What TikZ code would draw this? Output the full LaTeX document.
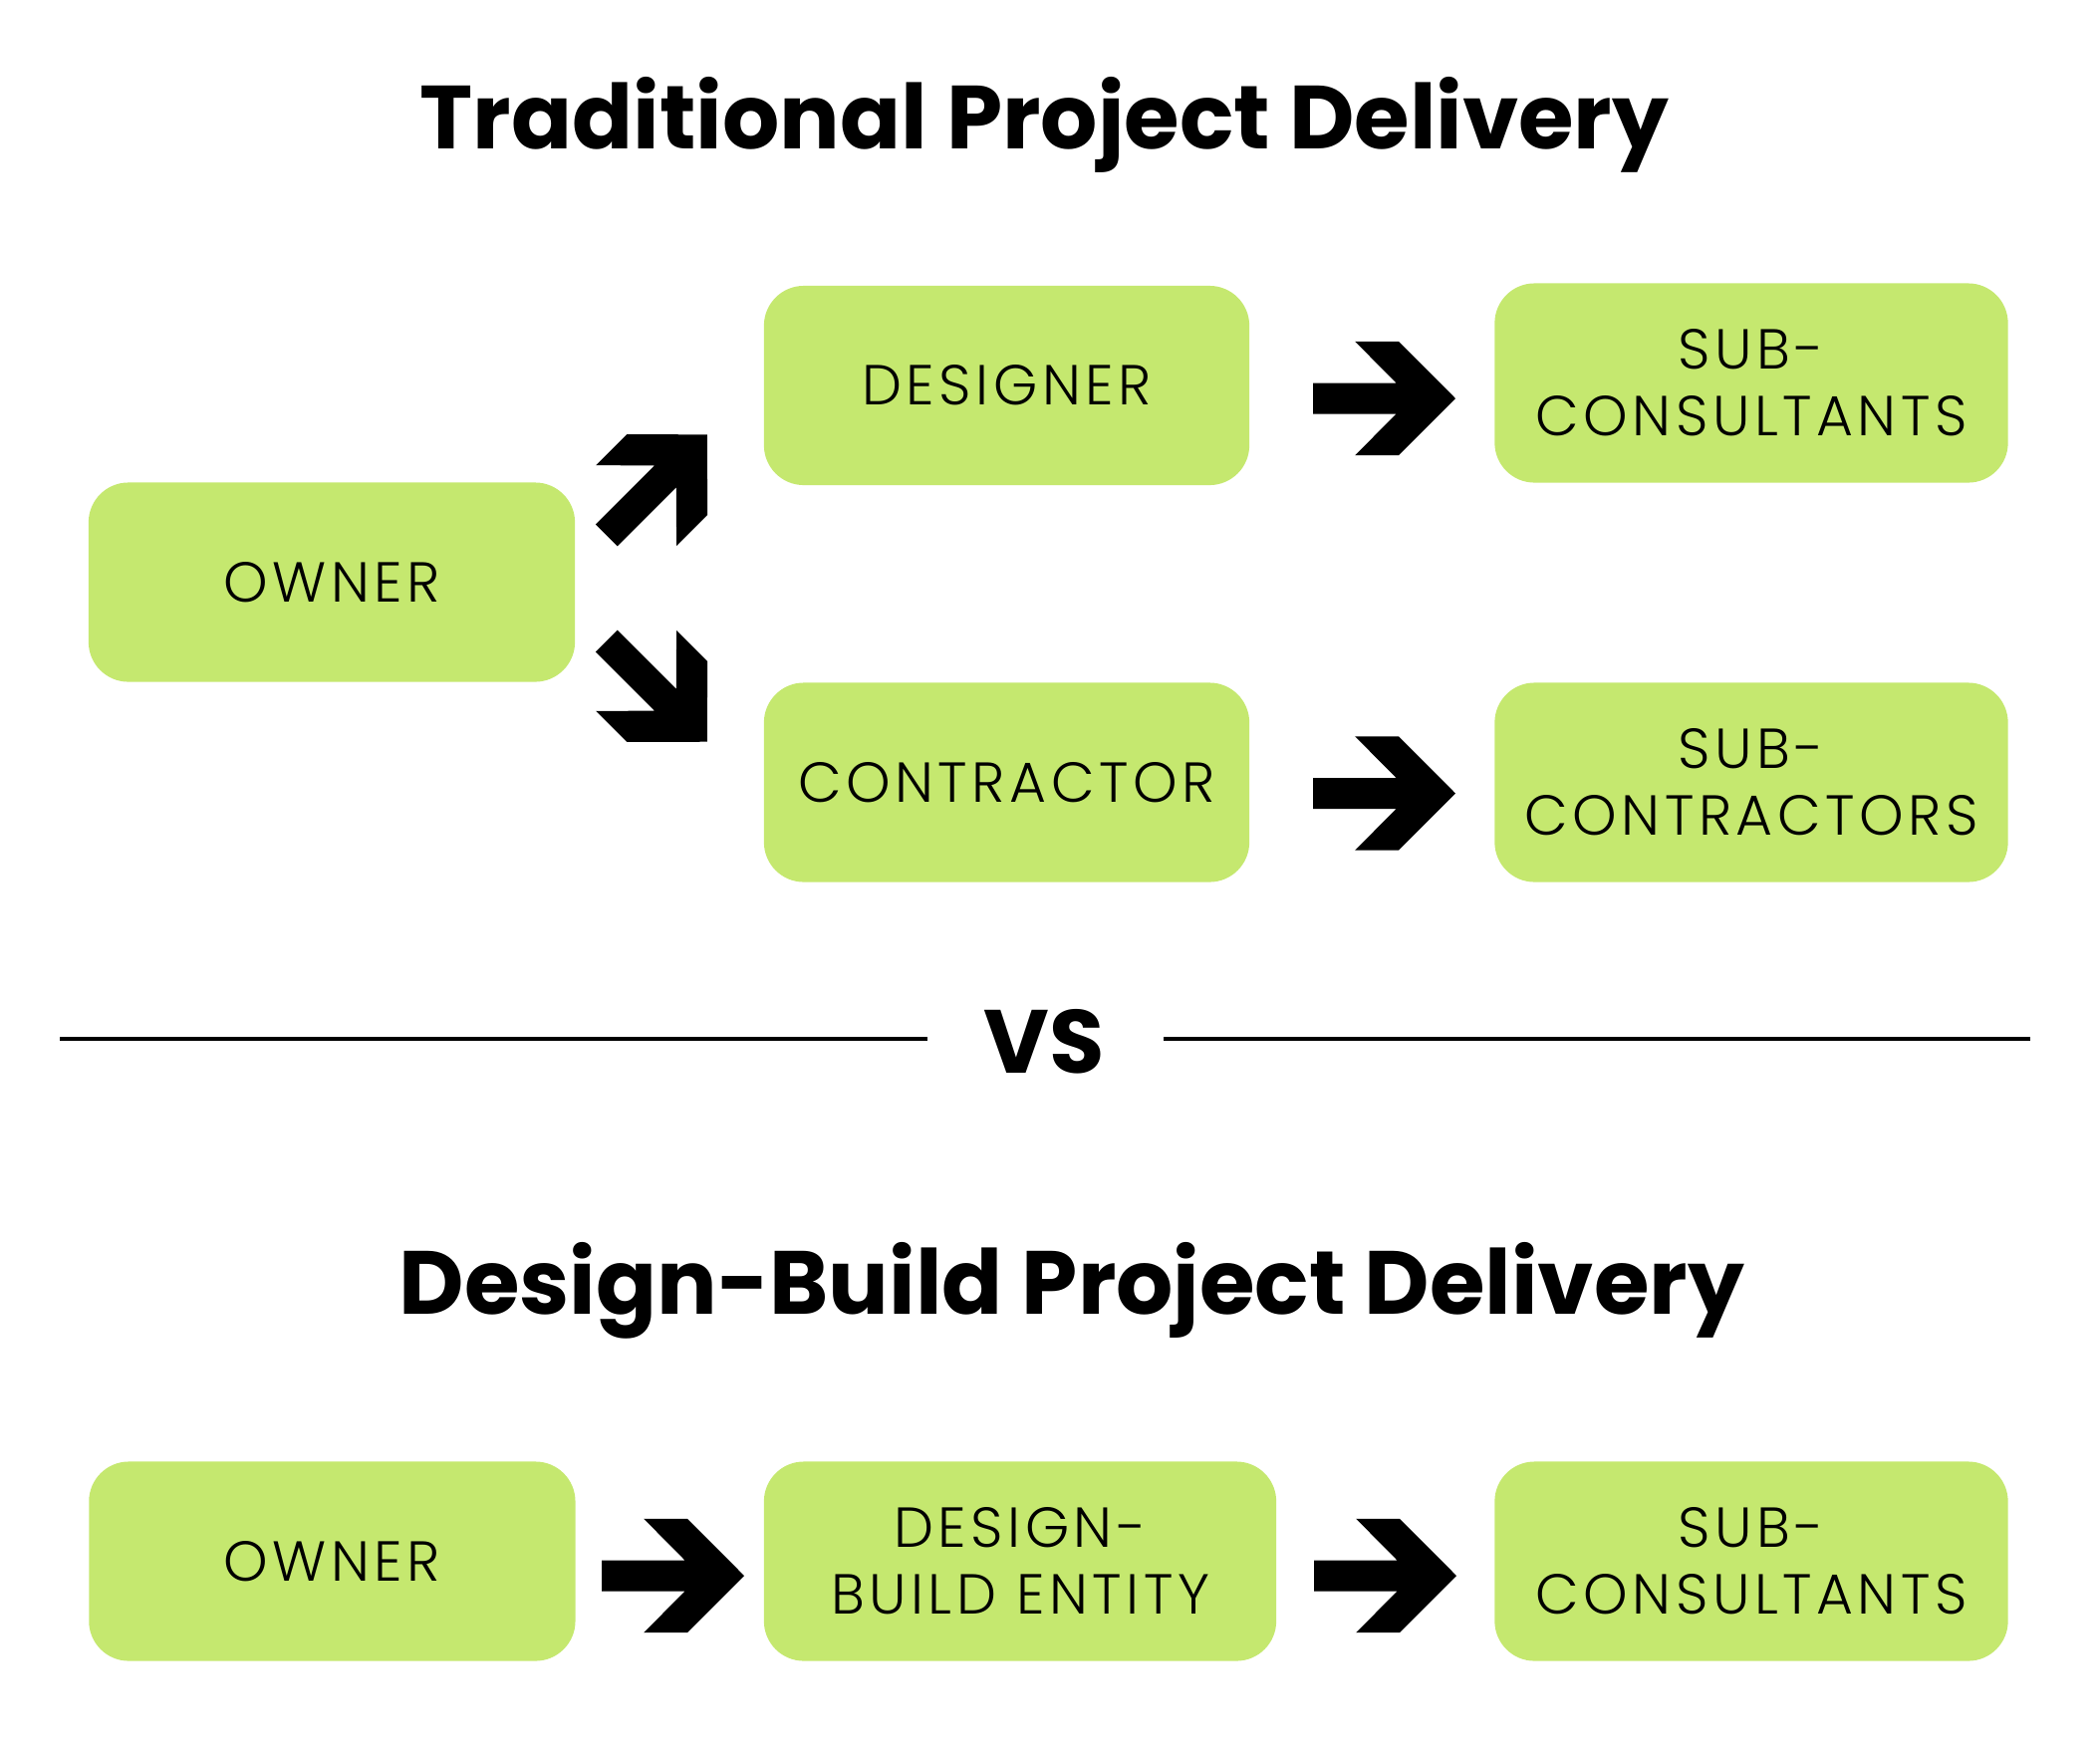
\documentclass[tikz,border=0pt]{standalone}
\usepackage{fontspec}
\setmainfont{Poppins}
\newfontfamily\titlefont{Poppins Bold}
\newfontfamily\lightfont{Poppins Light}[LetterSpace=8]
\definecolor{boxgreen}{RGB}{197,232,111}
\tikzset{
  box/.style={fill=boxgreen, rounded corners=0.4cm, minimum height=2cm, inner sep=0pt,
    align=center, text=black, font=\lightfont\fontsize{16.1}{19.06}\selectfont},
  ttl/.style={font=\titlefont\fontsize{25.6}{30}\selectfont, anchor=base, inner sep=0pt},
  sepline/.style={line width=0.04cm, black},
  bigarrow/.pic={\fill[black] (0,-15.5) -- (83.5,-15.5) -- (42.2,-57.2) -- (86,-57.2) -- (143,0)
      -- (86,57.2) -- (42.2,57.2) -- (83.5,15.5) -- (0,15.5) -- cycle;}
}
\begin{document}
\begin{tikzpicture}[x=0.01cm,y=-0.01cm]
\useasboundingbox[fill=white] (0,0) rectangle (2108,1756);
% titles
\node[ttl] (t1) at (1048.5,149.3) {Traditional Project Delivery};
\node[ttl] (t2) at (1076,1319.3) {Design-Build Project Delivery};
\node[ttl] (vs) at (1048.5,1077) {VS};
% separator
\coordinate (l1) at (60,1043);
\coordinate (l2) at (931,1043);
\coordinate (r1) at (1168,1043);
\coordinate (r2) at (2038,1043);
\draw[sepline] (l1) -- (l2);
\draw[sepline] (r1) -- (r2);
% traditional boxes
\node[box, minimum width=4.88cm] (owner1) at (333,584.5) {OWNER};
\node[box, minimum width=4.87cm] (designer) at (1010.5,387) {DESIGNER};
\node[box, minimum width=5.15cm] (subcons1) at (1758,384.5) {SUB-\\CONSULTANTS};
\node[box, minimum width=4.87cm] (contractor) at (1010.5,785.5) {CONTRACTOR};
\node[box, minimum width=5.15cm] (subcontr) at (1758,785.5) {SUB-\\CONTRACTORS};
% design-build boxes
\node[box, minimum width=4.88cm] (owner2) at (333.4,1567.5) {OWNER};
\node[box, minimum width=5.14cm] (dbe) at (1024,1567.5) {DESIGN-\\BUILD ENTITY};
\node[box, minimum width=5.15cm] (subcons2) at (1758,1567.5) {SUB-\\CONSULTANTS};
% arrows
\pic[rotate=45] (aup) at (608.8,537.4) {bigarrow};
\pic[rotate=-45] (adown) at (608.8,643.6) {bigarrow};
\pic (a1) at (1318,400) {bigarrow};
\pic (a2) at (1318,796.5) {bigarrow};
\pic (a3) at (604,1582) {bigarrow};
\pic (a4) at (1319,1582) {bigarrow};
\end{tikzpicture}
\end{document}
